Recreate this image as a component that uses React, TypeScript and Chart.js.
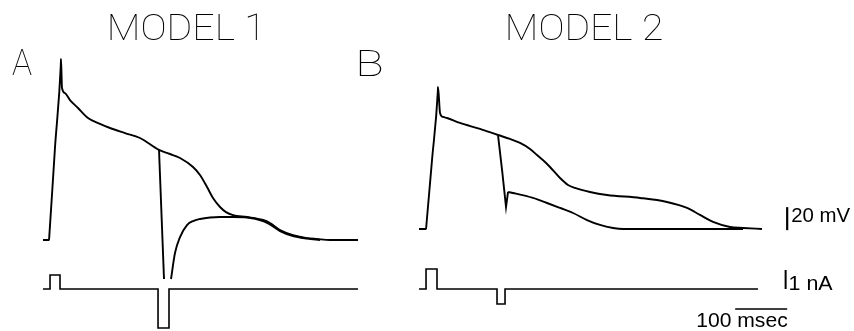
import React, { useEffect, useRef } from "react";
import { Chart, registerables } from "chart.js";

Chart.register(...registerables);

// ---- Model 1: membrane potential (mV) against time (ms) ----
// Control action potential.
const m1ControlTime = [0, 11.5, 12.2, 23, 34.2, 34.6, 36.5, 42.3, 51.9, 67.3, 86.5, 109.6, 128.8, 157.7, 186.5, 223.1, 244.2, 263.5, 288.5, 301.9, 315.4, 326.9, 340.4, 351.9, 365.4, 392.3, 423.1, 436.5, 455.8, 480.8, 507.7, 526.9, 551.9, 605.8];
const m1ControlVm = [-90, -90, -86, -10, 62, 67.4, 42.2, 37.8, 31.7, 24.8, 16.1, 10.9, 7.4, 3.0, -1.3, -11.7, -15.2, -18.7, -26.5, -33.5, -43.9, -53.5, -61.3, -65.7, -68.3, -70.0, -72.6, -75.2, -81.3, -85.7, -88.3, -89.1, -90, -90];
// Hyperpolarizing pulse applied during the plateau: fall, then recovery.
const m1FallTime = [223.1, 232.7];
const m1FallVm = [-11.7, -123.9];
const m1RecoveryTime = [246.2, 253.8, 263.5, 276.9, 288.5, 301.9, 321.2, 340.4, 365.4, 392.3, 423.1, 436.5, 455.8, 480.8, 507.7, 532.7];
const m1RecoveryVm = [-123.9, -101.3, -87.4, -77.0, -73.5, -71.7, -70.4, -70.0, -70.0, -70.4, -73.5, -76.5, -82.2, -86.5, -88.7, -90];
// Stimulus current (nA).
const m1StimTime = [0, 13.5, 13.5, 32.7, 32.7, 221.2, 221.2, 242.3, 242.3, 605.8];
const m1StimCurrent = [0, 0, 0.74, 0.74, 0, 0, -2.05, -2.05, 0, 0];

// ---- Model 2 ----
const m2ControlTime = [0, 13.5, 14.2, 25, 36.1, 36.5, 40.4, 46.2, 53.8, 78.8, 117.3, 151.9, 175.0, 194.2, 213.5, 226.9, 242.3, 251.9, 271.2, 286.5, 300, 328.8, 361.5, 425.0, 476.9, 515.4, 540.4, 565.4, 598.1, 623.1, 659.6];
const m2ControlVm = [-90, -90, -86.5, -30, 29, 33.5, 10.9, 7.4, 6.5, 2.2, -3.0, -8.3, -11.7, -15.2, -20.4, -25.7, -31.7, -36.1, -45.7, -51.7, -54.3, -57.8, -60.4, -63.0, -66.5, -71.7, -77.8, -83.9, -88.3, -89.1, -90];
const m2FallTime = [151.9, 160, 167.3, 171.2];
const m2FallVm = [-8.3, -40, -70.9, -57.8];
const m2RecoveryTime = [171.2, 180.8, 219.2, 246.2, 271.2, 296.2, 323.1, 348.1, 373.1, 392.3, 623.1];
const m2RecoveryVm = [-57.8, -58.7, -63.0, -67.4, -71.7, -76.1, -82.2, -86.5, -89.1, -90, -90];
const m2StimTime = [0, 13.5, 13.5, 34.6, 34.6, 150, 150, 165.4, 165.4, 651.9];
const m2StimCurrent = [0, 0, 1.05, 1.05, 0, 0, -0.79, -0.79, 0, 0];

// ---- Calibration bars (drawn on the Model 2 axes) ----
const voltBarTime = [708, 708];
const voltBarVm = [-91, -71]; // 20 mV
const currentBarTime = [705, 705];
const currentBarNa = [0, 1]; // 1 nA
const timeBarTime = [608, 708]; // 100 msec
const timeBarLevel = [-1.05, -1.05];

const zip = (xs: number[], ys: number[]) => xs.map((x, i) => ({ x, y: ys[i] }));

const INK = "#000";

function trace(
  xs: number[],
  ys: number[],
  xAxisID: string,
  yAxisID: string,
  smooth: boolean,
  width = 1.9
) {
  return {
    data: zip(xs, ys),
    xAxisID,
    yAxisID,
    borderColor: INK,
    borderWidth: width,
    pointRadius: 0,
    fill: false,
    tension: 0,
    cubicInterpolationMode: smooth ? ("monotone" as const) : ("default" as const),
    borderCapStyle: "butt" as const,
    borderJoinStyle: "miter" as const,
  };
}

// Draws text so that its ink spans exactly [left, right] with the given baseline.
function fitText(
  ctx: CanvasRenderingContext2D,
  text: string,
  left: number,
  right: number,
  baseline: number,
  font: string
) {
  ctx.font = font;
  ctx.textAlign = "left";
  ctx.textBaseline = "alphabetic";
  const m = ctx.measureText(text);
  const ink = m.actualBoundingBoxLeft + m.actualBoundingBoxRight;
  const sx = ink > 0 ? (right - left) / ink : 1;
  ctx.save();
  ctx.translate(left, baseline);
  ctx.scale(sx, 1);
  ctx.fillText(text, m.actualBoundingBoxLeft, 0);
  ctx.restore();
}

const labelsPlugin = {
  id: "figureLabels",
  afterDraw(chart: Chart) {
    const ctx = chart.ctx;
    const xB = chart.scales.xB;
    const yB = chart.scales.yB;
    const yI = chart.scales.yI;
    ctx.save();
    ctx.fillStyle = INK;
    const titleFont = "100 37px Roboto, 'DejaVu Sans', sans-serif";
    fitText(ctx, "MODEL 1", 110, 257, 40, titleFont);
    fitText(ctx, "MODEL 2", 508, 662, 40, titleFont);
    fitText(ctx, "A", 12, 32, 75, titleFont);
    fitText(ctx, "B", 359, 382, 76, titleFont);

    const barFont = "400 21px 'Liberation Sans', Arial, sans-serif";
    const vx = xB.getPixelForValue(voltBarTime[0]);
    const vy = yB.getPixelForValue(voltBarVm[0]);
    fitText(ctx, "20 mV", vx + 5, vx + 63, vy - 8, barFont);
    const cx = xB.getPixelForValue(currentBarTime[0]);
    const cy = yI.getPixelForValue(currentBarNa[0]);
    fitText(ctx, "1 nA", cx + 4, cx + 47, cy + 1, barFont);
    const tr = xB.getPixelForValue(timeBarTime[1]);
    const ty = yI.getPixelForValue(timeBarLevel[0]);
    fitText(ctx, "100 msec", tr - 90, tr, ty + 18, barFont);
    ctx.restore();
  },
};

export default function App() {
  const ref = useRef<HTMLCanvasElement>(null);

  useEffect(() => {
    if (!ref.current) return;
    const chart = new Chart(ref.current, {
      type: "line",
      data: {
        datasets: [
          trace(m1ControlTime, m1ControlVm, "xA", "yA", true),
          trace(m1FallTime, m1FallVm, "xA", "yA", false),
          trace(m1RecoveryTime, m1RecoveryVm, "xA", "yA", true),
          trace(m1StimTime, m1StimCurrent, "xA", "yI", false, 1.6),
          trace(m2ControlTime, m2ControlVm, "xB", "yB", true),
          trace(m2FallTime, m2FallVm, "xB", "yB", false),
          trace(m2RecoveryTime, m2RecoveryVm, "xB", "yB", true),
          trace(m2StimTime, m2StimCurrent, "xB", "yI", false, 1.6),
          trace(voltBarTime, voltBarVm, "xB", "yB", false, 2.2),
          trace(currentBarTime, currentBarNa, "xB", "yI", false, 2),
          trace(timeBarTime, timeBarLevel, "xB", "yI", false, 1.6),
        ],
      },
      options: {
        animation: false,
        responsive: false,
        maintainAspectRatio: false,
        devicePixelRatio: 1,
        layout: { padding: 0 },
        events: [],
        plugins: {
          legend: { display: false },
          tooltip: { enabled: false },
          title: { display: false },
        },
        scales: {
          // time axes: 0.52 px per ms, panel A starting at x=43, panel B at x=419
          xA: { type: "linear", axis: "x", display: false, min: -82.7, max: 1559.6 },
          xB: { type: "linear", axis: "x", display: false, min: -805.8, max: 836.5 },
          // potential axes: 1.15 px per mV, -90 mV resting level
          yA: { type: "linear", axis: "y", display: false, min: -169.1, max: 118.7 },
          yB: { type: "linear", axis: "y", display: false, min: -178.7, max: 109.1 },
          // stimulus current axis: 19 px per nA
          yI: { type: "linear", axis: "y", display: false, min: -2.21, max: 15.21 },
        },
      },
      plugins: [labelsPlugin],
    } as any);
    return () => chart.destroy();
  }, []);

  return (
    <div
      style={{
        position: "absolute",
        left: 0,
        top: 0,
        width: 854,
        height: 331,
        background: "#fff",
      }}
    >
      <canvas
        ref={ref}
        width={854}
        height={331}
        style={{ display: "block", width: 854, height: 331 }}
      />
    </div>
  );
}
